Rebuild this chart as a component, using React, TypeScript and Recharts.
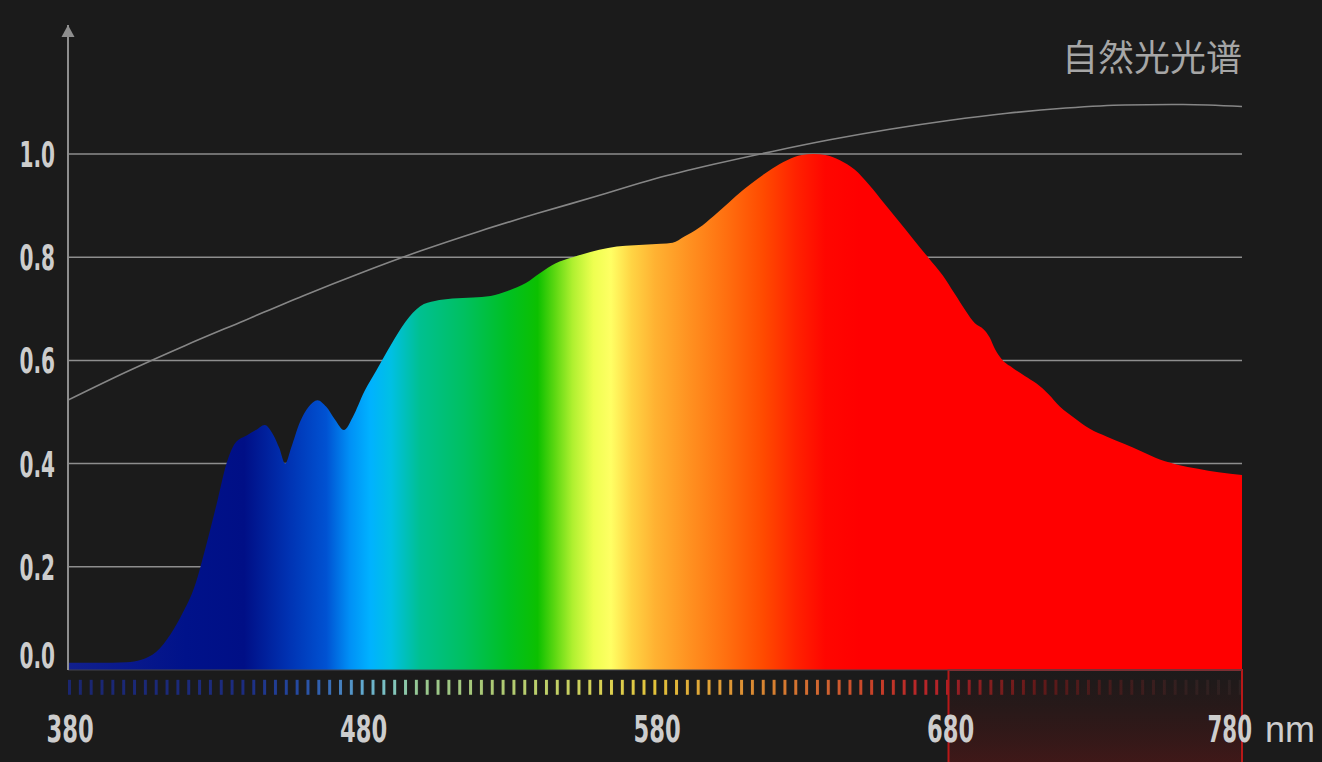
import React from 'react';
import {
  ComposedChart,
  Area,
  Line,
  XAxis,
  YAxis,
  CartesianGrid,
  ReferenceArea,
  ReferenceDot,
} from 'recharts';

// Relative spectral power of the light source (nm → power, peak = 1.0)
const spectrumNm = [
  380, 390, 400, 405, 410, 415, 419, 423, 427, 431, 434, 437, 441, 444, 447, 450, 452, 454,
  456, 459, 462, 465, 468, 471, 474, 477, 481, 485, 490, 495, 500, 505, 511, 518, 524, 530,
  536, 541, 546, 552, 558, 564, 570, 576, 582, 586, 590, 595, 600, 605, 610, 615, 620, 625,
  630, 634, 638, 643, 648, 653, 658, 663, 668, 673, 678, 682, 686, 689, 692, 694, 696, 698,
  702, 706, 710, 714, 718, 723, 728, 734, 740, 746, 752, 758, 765, 772, 780,
];
const spectrumPower = [
  0.014, 0.014, 0.015, 0.02, 0.035, 0.07, 0.11, 0.16, 0.24, 0.33, 0.4, 0.44, 0.455, 0.465,
  0.475, 0.455, 0.43, 0.4, 0.43, 0.48, 0.51, 0.523, 0.51, 0.485, 0.465, 0.49, 0.54, 0.58,
  0.63, 0.675, 0.705, 0.715, 0.72, 0.722, 0.725, 0.735, 0.75, 0.77, 0.788, 0.8, 0.81, 0.818,
  0.822, 0.824, 0.826, 0.828, 0.84, 0.857, 0.88, 0.905, 0.93, 0.952, 0.972, 0.988, 0.998,
  1.0, 0.998, 0.988, 0.97, 0.94, 0.905, 0.87, 0.835, 0.8, 0.765, 0.73, 0.695, 0.672, 0.66,
  0.645, 0.62, 0.603, 0.585, 0.57, 0.555, 0.535, 0.51, 0.488, 0.468, 0.452, 0.438, 0.423,
  0.408, 0.398, 0.39, 0.383, 0.378,
];

// Reference daylight curve (thin gray line)
const daylightNm = [
  380, 400, 420, 440, 460, 480, 500, 520, 540, 560, 580, 600, 620, 640, 660, 680, 700, 720,
  740, 760, 780,
];
const daylightCurve = [
  0.523, 0.578, 0.629, 0.677, 0.725, 0.77, 0.812, 0.85, 0.885, 0.918, 0.952, 0.98, 1.005,
  1.028, 1.048, 1.065, 1.079, 1.089, 1.095, 1.096, 1.092,
];

const xTicks = [380, 480, 580, 680, 780];
const yTicks = [0, 0.2, 0.4, 0.6, 0.8, 1.0];
const gridValues = [0.2, 0.4, 0.6, 0.8, 1.0];
const TITLE = '自然光光谱';
const UNIT = 'nm';

// Highlighted band (red frame below the axis)
const bandStart = 680;
const bandEnd = 780;

// Axis ranges and the decorative dash strip (in value units)
const X_DOMAIN: [number, number] = [380, 780];
const Y_DOMAIN: [number, number] = [0, 1.25];
const STRIP_TOP = -0.019;
const STRIP_BOTTOM = -0.048;
const BAND_BOTTOM = -0.2;

// Colour stops of the visible spectrum fill (nm, colour)
const spectrumStops: [number, string][] = [
  [380, '#12208e'],
  [420, '#00128a'],
  [440, '#000f86'],
  [455, '#0032b2'],
  [468, '#0052d2'],
  [476, '#0090f6'],
  [483, '#00b2ff'],
  [490, '#00c0e4'],
  [500, '#00c090'],
  [515, '#00c060'],
  [530, '#00c022'],
  [540, '#0cc000'],
  [546, '#5ed812'],
  [552, '#b0f030'],
  [559, '#eeff50'],
  [565, '#ffff64'],
  [572, '#ffd444'],
  [580, '#ffb232'],
  [592, '#ff9020'],
  [604, '#ff7010'],
  [617, '#ff4a00'],
  [628, '#ff2200'],
  [638, '#ff0600'],
  [650, '#ff0000'],
  [780, '#ff0000'],
];

// Colour stops of the dash strip under the axis
const stripStops: [number, string][] = [
  [380, '#1a2670'],
  [440, '#1c2c80'],
  [458, '#2448a0'],
  [470, '#3a70b8'],
  [480, '#60a8d0'],
  [490, '#80c6c0'],
  [500, '#98c890'],
  [520, '#a8c878'],
  [545, '#c0d068'],
  [565, '#dcd050'],
  [580, '#e2c23a'],
  [600, '#e0a038'],
  [620, '#d88030'],
  [640, '#d06030'],
  [655, '#c84028'],
  [668, '#b82828'],
  [682, '#b02028'],
  [695, '#902020'],
  [710, '#6a1a1a'],
  [730, '#4a1c1c'],
  [760, '#302222'],
  [780, '#282424'],
];

const rows = Array.from(new Set([...spectrumNm, ...daylightNm]))
  .sort((a, b) => a - b)
  .map((nm) => {
    const i = spectrumNm.indexOf(nm);
    const j = daylightNm.indexOf(nm);
    return {
      nm,
      power: i >= 0 ? spectrumPower[i] : null,
      daylight: j >= 0 ? daylightCurve[j] : null,
    };
  });

const offsetOf = (nm: number) => (nm - X_DOMAIN[0]) / (X_DOMAIN[1] - X_DOMAIN[0]);

const BG = '#1b1b1b';
const AXIS_GRAY = '#8e8e8e';
const LABEL = '#cdcdcd';
const NUM_FONT = "'DejaVu Sans Condensed', 'DejaVu Sans', sans-serif";

const YTick = (props: any) => {
  const { x, y, payload } = props;
  const v: number = payload.value;
  const baseline = v === 0 ? y - 2 : y + 13;
  return (
    <g transform={`translate(${x - 13},${baseline}) scale(0.62,1)`}>
      <text x={0} y={0} textAnchor="end" fill={LABEL} fontFamily={NUM_FONT} fontWeight={700} fontSize={36}>
        {v.toFixed(1)}
      </text>
    </g>
  );
};

const XTick = (props: any) => {
  const { x, y, payload } = props;
  const v: number = payload.value;
  const baseline = y + 72;
  if (v === X_DOMAIN[1]) {
    return (
      <g>
        <g transform={`translate(${x + 10},${baseline}) scale(0.64,1)`}>
          <text x={0} y={0} textAnchor="end" fill={LABEL} fontFamily={NUM_FONT} fontWeight={700} fontSize={37}>
            {v}
          </text>
        </g>
        <text x={x + 23} y={baseline} textAnchor="start" fill={LABEL} fontFamily="'Liberation Sans', Arial, sans-serif" fontSize={36}>
          {UNIT}
        </text>
      </g>
    );
  }
  return (
    <g transform={`translate(${x + 2},${baseline}) scale(0.68,1)`}>
      <text x={0} y={0} textAnchor="middle" fill={LABEL} fontFamily={NUM_FONT} fontWeight={700} fontSize={37}>
        {v}
      </text>
    </g>
  );
};

const StripShape = (props: any) => (
  <rect
    x={props.x}
    y={props.y}
    width={props.width}
    height={props.height}
    fill="url(#stripGrad)"
    mask="url(#stripMask)"
  />
);

const ArrowHead = (props: any) => {
  const { cx, cy } = props;
  return <path d={`M${cx},${cy} L${cx - 6.5},${cy + 12} L${cx + 6.5},${cy + 12} Z`} fill={AXIS_GRAY} />;
};

export default function App() {
  return (
    <div
      style={{
        position: 'absolute',
        left: 0,
        top: 0,
        width: 1322,
        height: 762,
        background: BG,
        overflow: 'hidden',
      }}
    >
      <ComposedChart
        width={1322}
        height={762}
        data={rows}
        margin={{ top: 25, right: 80, bottom: 0, left: 0 }}
      >
        <defs>
          <linearGradient id="specGrad" x1="0" y1="0" x2="1" y2="0">
            {spectrumStops.map(([nm, c]) => (
              <stop key={nm} offset={offsetOf(nm)} stopColor={c} />
            ))}
          </linearGradient>
          <linearGradient id="stripGrad" x1="0" y1="0" x2="1" y2="0">
            {stripStops.map(([nm, c]) => (
              <stop key={nm} offset={offsetOf(nm)} stopColor={c} />
            ))}
          </linearGradient>
          <linearGradient id="bandGrad" x1="0" y1="0" x2="0" y2="1">
            <stop offset="0" stopColor="#3a1414" stopOpacity={0.05} />
            <stop offset="1" stopColor="#4c1818" stopOpacity={0.85} />
          </linearGradient>
          <pattern id="stripDash" patternUnits="userSpaceOnUse" x={68} y={0} width={10.84} height={762}>
            <rect x={0} y={0} width={3} height={762} fill="#fff" />
          </pattern>
          <mask id="stripMask" maskUnits="userSpaceOnUse" x={0} y={0} width={1322} height={762}>
            <rect x={0} y={0} width={1322} height={762} fill="url(#stripDash)" />
          </mask>
        </defs>

        <CartesianGrid
          vertical={false}
          horizontalValues={gridValues}
          stroke={AXIS_GRAY}
          strokeWidth={1.5}
        />

        <XAxis
          dataKey="nm"
          type="number"
          domain={X_DOMAIN}
          ticks={xTicks}
          height={92}
          tickLine={false}
          tickSize={0}
          tickMargin={0}
          axisLine={{ stroke: '#45454f', strokeWidth: 1 }}
          tick={<XTick />}
          interval={0}
          allowDataOverflow
        />
        <YAxis
          type="number"
          domain={Y_DOMAIN}
          ticks={yTicks}
          width={68}
          tickLine={false}
          tickSize={0}
          tickMargin={0}
          axisLine={{ stroke: AXIS_GRAY, strokeWidth: 2 }}
          tick={<YTick />}
          interval={0}
          allowDataOverflow
        />

        <Area
          type="monotone"
          dataKey="power"
          connectNulls
          stroke="none"
          fill="url(#specGrad)"
          fillOpacity={1}
          dot={false}
          activeDot={false}
          isAnimationActive={false}
        />
        <Line
          type="monotone"
          dataKey="daylight"
          connectNulls
          stroke="#868686"
          strokeWidth={1.6}
          dot={false}
          activeDot={false}
          isAnimationActive={false}
        />

        <ReferenceArea
          x1={X_DOMAIN[0]}
          x2={X_DOMAIN[1]}
          y1={STRIP_BOTTOM}
          y2={STRIP_TOP}
          ifOverflow="visible"
          shape={<StripShape />}
        />
        <ReferenceArea
          x1={bandStart}
          x2={bandEnd}
          y1={BAND_BOTTOM}
          y2={0}
          ifOverflow="visible"
          fill="url(#bandGrad)"
          fillOpacity={1}
          stroke="#b81818"
          strokeWidth={2}
        />
        <ReferenceDot
          x={X_DOMAIN[0]}
          y={Y_DOMAIN[1]}
          ifOverflow="visible"
          shape={<ArrowHead />}
        />
      </ComposedChart>
      <div
        style={{
          position: 'absolute',
          left: 0,
          top: 37,
          width: 1242,
          textAlign: 'right',
          fontFamily: "'Noto Sans CJK SC', sans-serif",
          fontSize: 36,
          lineHeight: '36px',
          color: '#a6a6a6',
          letterSpacing: 0,
        }}
      >
        {TITLE}
      </div>
    </div>
  );
}
